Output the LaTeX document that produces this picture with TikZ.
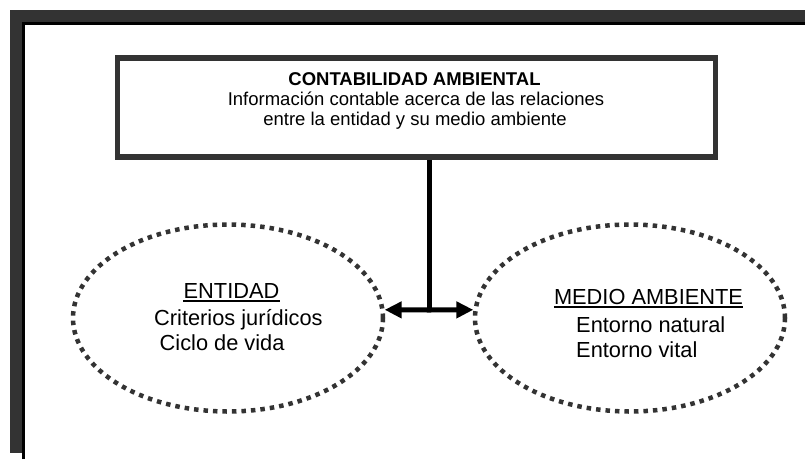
\documentclass[tikz,border=0pt]{standalone}
\usepackage{fontspec}
\setmainfont{Liberation Sans}
\usetikzlibrary{shapes.geometric,arrows.meta}
\definecolor{frame}{HTML}{333333}
\begin{document}
\begin{tikzpicture}[x=1pt,y=-1pt,
  boxtext/.style={inner sep=0pt,anchor=base,font=\fontsize{18.5}{20}\selectfont},
  elltext/.style={inner sep=0pt,font=\fontsize{21.8}{26}\selectfont},
  bubble/.style={ellipse,draw=frame,line width=4.5pt,dash pattern=on 4.5pt off 5pt,
    minimum width=310pt,minimum height=187pt,inner sep=0pt},
  link/.style={line width=5pt,black},
  tip/.style={-{Triangle[length=17pt,width=16pt]}}]
\useasboundingbox (0,0) rectangle (805,459);
\fill[white] (0,0) rectangle (805,459);
% frame
\fill[frame] (10,10) rectangle (805,24);
\fill[frame] (10,10) rectangle (24,453);
\draw[black,line width=3pt] (23.5,459) -- (23.5,23.5) -- (805,23.5);
% top box
\node[draw=frame,line width=5.5pt,minimum width=598pt,minimum height=99pt,inner sep=0pt] (box) at (416.5,107.5) {};
\node[boxtext,font=\fontsize{18.5}{20}\selectfont\bfseries] (t1) at (414.5,85) {CONTABILIDAD AMBIENTAL};
\node[boxtext] (t2) at (416,105) {Información contable acerca de las relaciones};
\node[boxtext] (t3) at (415,125) {entre la entidad y su medio ambiente};
% ellipses
\node[bubble] (L) at (228,318) {};
\node[bubble] (R) at (630,318) {};
\node[elltext,anchor=base] (e1) at (231.5,298) {ENTIDAD};
\draw[line width=1.6pt] ([yshift=-3pt]e1.base west) -- ([yshift=-3pt]e1.base east);
\node[elltext,anchor=base west] (e2) at (154,325) {Criterios jurídicos};
\node[elltext,anchor=base west] (e3) at (159.5,350) {Ciclo de vida};
\node[elltext,anchor=base] (m1) at (648.5,304) {MEDIO AMBIENTE};
\draw[line width=1.6pt] ([yshift=-3pt]m1.base west) -- ([yshift=-3pt]m1.base east);
\node[elltext,anchor=base west] (m2) at (576,332) {Entorno natural};
\node[elltext,anchor=base west] (m3) at (576,357) {Entorno vital};
% connectors
\coordinate (j) at (429,310);
\draw[link] (box.south -| j) -- (j);
\draw[link,tip] (j) -- (L.3);
\draw[link,tip] (j) -- (R.177);
\end{tikzpicture}
\end{document}
